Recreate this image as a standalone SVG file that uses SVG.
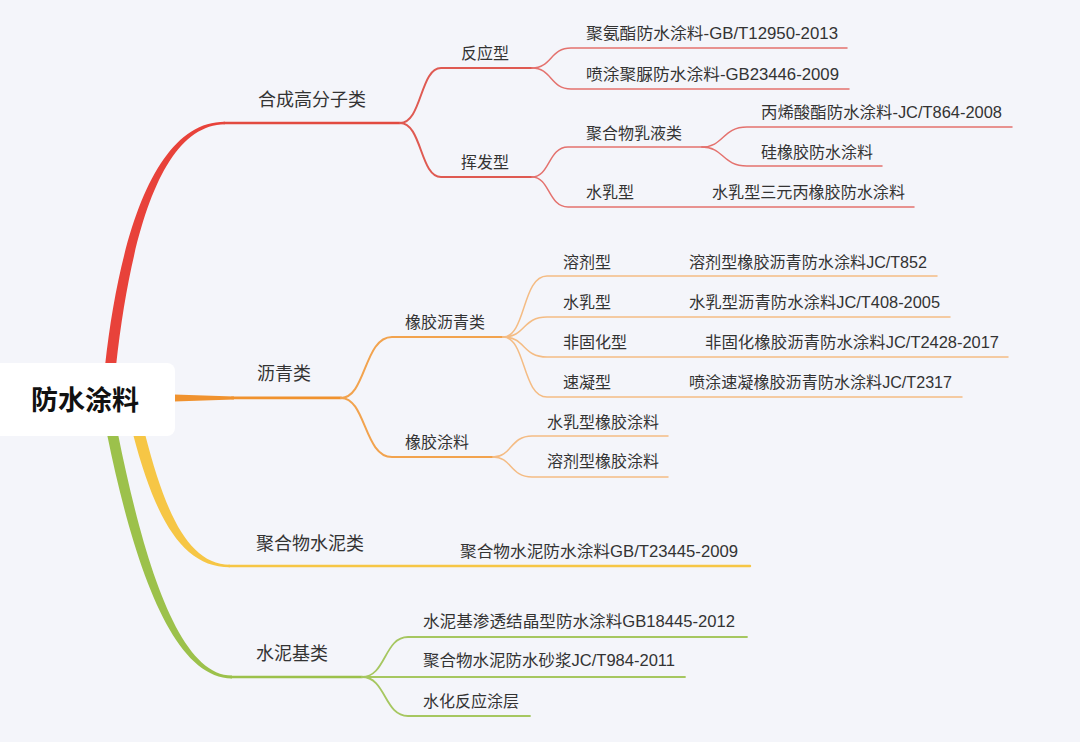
<svg xmlns="http://www.w3.org/2000/svg" width="1080" height="742" viewBox="0 0 1080 742">
<style>
text{font-family:"Liberation Sans","Noto Sans CJK SC",sans-serif;fill:#333}
.l1{font-size:18px}
.l2{font-size:16px}
.root{font-size:27px;font-weight:bold;fill:#111}
.c{fill:none;stroke-linecap:round}
.r1{stroke:#e24a40;stroke-width:2.6}
.r2{stroke:#df5a52;stroke-width:2}
.r3{stroke:#e4726e;stroke-width:1.5}
.o1{stroke:#f0922e;stroke-width:2.6}
.o2{stroke:#f2a34e;stroke-width:2}
.o3{stroke:#f4bc84;stroke-width:1.5}
.y1{stroke:#f6c645;stroke-width:2.4}
.g1{stroke:#9cc14b;stroke-width:2.6}
.g3{stroke:#a6c760;stroke-width:1.8}
</style>
<rect width="1080" height="742" fill="#f4f5fa"/>
<g id="connectors">
  <!-- red -->
  <path d="M105 366 C120 230 157 121.3 225 121.7 L225 124.3 C162 125 131 232 116 366 Z" fill="#e8423a"/>
  <path class="c r1" d="M224 123 H400"/>
  <path class="c r2" d="M400 123 C422 123 420 68 441 68 H532"/>
  <path class="c r2" d="M400 123 C422 123 420 177 441 177 H532"/>
  <path class="c r3" d="M532 68 C552 68 550 48 571 48 H847"/>
  <path class="c r3" d="M532 68 C552 68 550 89 571 89 H849"/>
  <path class="c r3" d="M532 177 C550 177 548 147 568 147 H702"/>
  <path class="c r3" d="M532 177 C550 177 548 207 568 207 H914"/>
  <path class="c r3" d="M702 147 C724 147 722 127 747 127 H1012"/>
  <path class="c r3" d="M702 147 C724 147 722 166 747 166 H882"/>
  <!-- orange -->
  <path d="M174 394.6 L234 396.4 L234 399.4 L174 401.4 Z" fill="#f0922e"/>
  <path class="c o1" d="M232 397.9 H341"/>
  <path class="c o2" d="M341 397.9 C366 397.9 364 337 392 337 H503"/>
  <path class="c o2" d="M341 397.9 C366 397.9 364 457 392 457 H493"/>
  <path class="c o3" d="M503 337 C526 337 522 276 547 276 H937"/>
  <path class="c o3" d="M503 337 C526 337 522 317 547 317 H950"/>
  <path class="c o3" d="M503 337 C526 337 522 357 547 357 H1008"/>
  <path class="c o3" d="M503 337 C526 337 522 397 547 397 H962"/>
  <path class="c o3" d="M493 457 C512 457 510 436 532 436 H668"/>
  <path class="c o3" d="M493 457 C512 457 510 477 532 477 H668"/>
  <!-- yellow -->
  <path d="M133 434 C155 518 182 567.4 230 567.3 L230 564.7 C188 564.6 165 512 145 434 Z" fill="#f6c645"/>
  <path class="c y1" d="M229 566 H750"/>
  <!-- green -->
  <path d="M107 434 C133 562 172 678.5 232 678.4 L232 675.6 C178 675.5 143 558 118 434 Z" fill="#9cc14b"/>
  <path class="c g1" d="M231 677 H362"/>
  <path class="c g3" d="M362 677 C386 677 384 637 408 637 H747"/>
  <path class="c g3" d="M362 677 H685"/>
  <path class="c g3" d="M362 677 C386 677 384 716 408 716 H530"/>
</g>
<g id="root">
  <rect x="-8" y="363" width="183" height="73" rx="8" fill="#ffffff"/>
  <text class="root" x="31" y="410">防水涂料</text>
</g>
<g id="n-hecheng"><text class="l1" x="258" y="106">合成高分子类</text></g>
<g id="n-fanying"><text class="l2" x="461" y="59">反应型</text></g>
<g id="n-huifa"><text class="l2" x="461" y="168">挥发型</text></g>
<g id="n-juanzhi"><text class="l2" x="586" y="39" textLength="252" lengthAdjust="spacingAndGlyphs">聚氨酯防水涂料-GB/T12950-2013</text></g>
<g id="n-penniao"><text class="l2" x="586" y="80" textLength="253" lengthAdjust="spacingAndGlyphs">喷涂聚脲防水涂料-GB23446-2009</text></g>
<g id="n-ruye"><text class="l2" x="586" y="139">聚合物乳液类</text></g>
<g id="n-bingxi"><text class="l2" x="761" y="118" textLength="241" lengthAdjust="spacingAndGlyphs">丙烯酸酯防水涂料-JC/T864-2008</text></g>
<g id="n-gui"><text class="l2" x="761" y="158">硅橡胶防水涂料</text></g>
<g id="n-shuiru1"><text class="l2" x="586" y="198">水乳型</text></g>
<g id="n-sanyuan"><text class="l2" x="712" y="198" textLength="193" lengthAdjust="spacingAndGlyphs">水乳型三元丙橡胶防水涂料</text></g>
<g id="n-liqing"><text class="l1" x="257" y="380">沥青类</text></g>
<g id="n-xjlq"><text class="l2" x="405" y="328">橡胶沥青类</text></g>
<g id="n-xjtl"><text class="l2" x="405" y="448">橡胶涂料</text></g>
<g id="n-rongji"><text class="l2" x="563" y="268">溶剂型</text></g>
<g id="n-rongji-l"><text class="l2" x="689" y="268" textLength="238" lengthAdjust="spacingAndGlyphs">溶剂型橡胶沥青防水涂料JC/T852</text></g>
<g id="n-shuiru2"><text class="l2" x="563" y="308">水乳型</text></g>
<g id="n-shuiru2-l"><text class="l2" x="689" y="308" textLength="251" lengthAdjust="spacingAndGlyphs">水乳型沥青防水涂料JC/T408-2005</text></g>
<g id="n-feiguhua"><text class="l2" x="563" y="348">非固化型</text></g>
<g id="n-feiguhua-l"><text class="l2" x="705" y="348" textLength="294" lengthAdjust="spacingAndGlyphs">非固化橡胶沥青防水涂料JC/T2428-2017</text></g>
<g id="n-suning"><text class="l2" x="563" y="388">速凝型</text></g>
<g id="n-suning-l"><text class="l2" x="689" y="388" textLength="263" lengthAdjust="spacingAndGlyphs">喷涂速凝橡胶沥青防水涂料JC/T2317</text></g>
<g id="n-srxj"><text class="l2" x="547" y="428">水乳型橡胶涂料</text></g>
<g id="n-rjxj"><text class="l2" x="547" y="467">溶剂型橡胶涂料</text></g>
<g id="n-jhwsn"><text class="l1" x="256" y="550">聚合物水泥类</text></g>
<g id="n-jhwsn-l"><text class="l2" x="460" y="557" textLength="278" lengthAdjust="spacingAndGlyphs">聚合物水泥防水涂料GB/T23445-2009</text></g>
<g id="n-snj"><text class="l1" x="256" y="660">水泥基类</text></g>
<g id="n-shentou"><text class="l2" x="423" y="627" textLength="312" lengthAdjust="spacingAndGlyphs">水泥基渗透结晶型防水涂料GB18445-2012</text></g>
<g id="n-shajiang"><text class="l2" x="423" y="666" textLength="252" lengthAdjust="spacingAndGlyphs">聚合物水泥防水砂浆JC/T984-2011</text></g>
<g id="n-shuihua"><text class="l2" x="423" y="707">水化反应涂层</text></g>
</svg>
